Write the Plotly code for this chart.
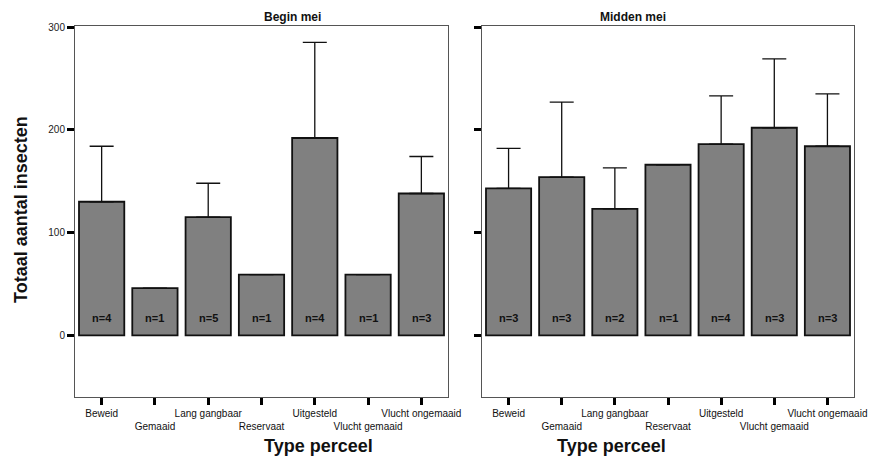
import plotly.graph_objects as go
from plotly.subplots import make_subplots

# Perceeltypes (x-as)
categories = ["Beweid", "Gemaaid", "Lang gangbaar", "Reservaat",
              "Uitgesteld", "Vlucht gemaaid", "Vlucht ongemaaid"]
# Staggered tick labels: every second label on a second line
tick_labels = [c if i % 2 == 0 else "<br>" + c for i, c in enumerate(categories)]

# Begin mei: gemiddeld totaal aantal insecten, foutbalk (boven) en n
begin_mean = [130, 46, 115, 59, 192, 59, 138]
begin_err = [54, None, 33, None, 93, None, 36]
begin_n = [4, 1, 5, 1, 4, 1, 3]

# Midden mei
midden_mean = [143, 154, 123, 166, 186, 202, 184]
midden_err = [39, 73, 40, None, 47, 67, 51]
midden_n = [3, 3, 2, 1, 4, 3, 3]

panel_titles = ["Begin mei", "Midden mei"]
y_ticks = [0, 100, 200, 300]
y_range = [-60, 301]
n_label_y = 17

FONT = "Arial, Liberation Sans, sans-serif"
W, H = 872, 463
left_dom = [75 / W, 448 / W]
right_dom = [482 / W, 854 / W]
y_dom = [(H - 397) / H, (H - 26) / H]

fig = make_subplots(rows=1, cols=2, shared_yaxes=False)

panels = [(begin_mean, begin_err, begin_n), (midden_mean, midden_err, midden_n)]
for col, (mean, err, n) in enumerate(panels, start=1):
    fig.add_trace(go.Bar(
        x=categories, y=mean, width=0.85,
        marker=dict(color="#808080", line=dict(color="#111111", width=1.8)),
        error_y=dict(type="data", symmetric=False,
                     array=[e if e is not None else float("nan") for e in err],
                     arrayminus=[0] * len(err),
                     visible=True, color="#111111", thickness=1.3, width=12),
        showlegend=False, hoverinfo="skip",
    ), row=1, col=col)
    xref = "x" if col == 1 else "x2"
    yref = "y" if col == 1 else "y2"
    for c, k in zip(categories, n):
        fig.add_annotation(x=c, y=n_label_y, xref=xref, yref=yref,
                           text=f"<b>n={k}</b>", showarrow=False,
                           font=dict(family=FONT, size=11, color="#111111"),
                           yanchor="middle")

for col, dom in zip([1, 2], [left_dom, right_dom]):
    fig.update_xaxes(domain=dom, row=1, col=col, automargin=False,
                     tickmode="array", tickvals=categories, ticktext=tick_labels,
                     tickangle=0,
                     ticks="outside", ticklen=7, tickwidth=3, tickcolor="#000000",
                     showline=True, mirror=True, linecolor="#555555", linewidth=1,
                     showgrid=False,
                     tickfont=dict(family=FONT, size=10, color="#111111"))
    fig.update_yaxes(domain=y_dom, row=1, col=col, range=y_range, automargin=False,
                     tickmode="array", tickvals=y_ticks,
                     showticklabels=(col == 1),
                     ticks="outside", ticklen=7, tickwidth=3, tickcolor="#000000",
                     showline=True, mirror=True, linecolor="#555555", linewidth=1,
                     showgrid=False, zeroline=False,
                     tickfont=dict(family=FONT, size=10, color="#222222"))

for title, dom in zip(panel_titles, [left_dom, right_dom]):
    fig.add_annotation(x=(dom[0] + dom[1]) / 2, y=(H - 17) / H, xref="paper", yref="paper",
                       text=f"<b>{title}</b>", showarrow=False, yanchor="middle",
                       font=dict(family=FONT, size=12, color="#111111"))
    fig.add_annotation(x=(dom[0] + dom[1]) / 2, y=(H - 446) / H, xref="paper", yref="paper",
                       text="<b>Type perceel</b>", showarrow=False, yanchor="middle",
                       font=dict(family=FONT, size=18, color="#111111"))

fig.add_annotation(x=21 / W, y=(H - 210) / H, xref="paper", yref="paper",
                   text="<b>Totaal aantal insecten</b>", showarrow=False,
                   textangle=-90, xanchor="center", yanchor="middle",
                   font=dict(family=FONT, size=18, color="#111111"))

fig.update_layout(width=W, height=H, margin=dict(l=0, r=0, t=0, b=0),
                  paper_bgcolor="white", plot_bgcolor="white",
                  bargap=0.15, font=dict(family=FONT))

fig.write_html("out.html")
